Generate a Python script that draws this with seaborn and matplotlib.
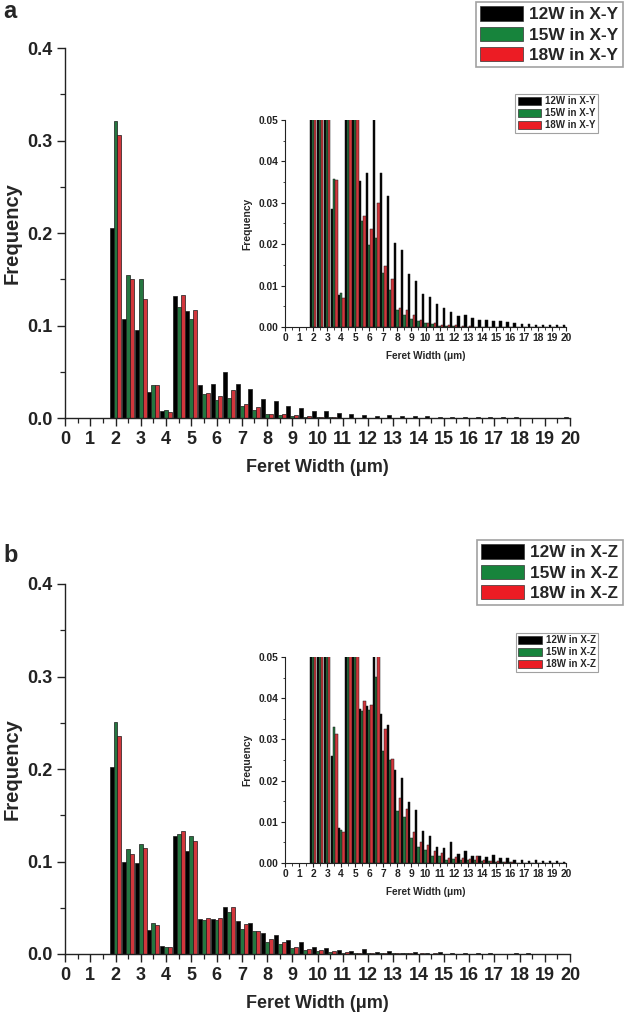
import numpy as np
import pandas as pd
import matplotlib
matplotlib.use("Agg")
import matplotlib.pyplot as plt
from matplotlib.patches import Patch
from matplotlib.ticker import FormatStrFormatter
import seaborn as sns

# ---------------- data ----------------
bins = [2.0, 2.5, 3.0, 3.5, 4.0, 4.5, 5.0, 5.5, 6.0, 6.5, 7.0, 7.5, 8.0, 8.5,
        9.0, 9.5, 10.0, 10.5, 11.0, 11.5, 12.0, 12.5, 13.0, 13.5, 14.0, 14.5,
        15.0, 15.5, 16.0, 16.5, 17.0, 17.5, 18.0, 18.5, 19.0, 19.5, 20.0]

labels_xy = ["12W in X-Y", "15W in X-Y", "18W in X-Y"]
labels_xz = ["12W in X-Z", "15W in X-Z", "18W in X-Z"]

xy_12w = [0.205, 0.107, 0.0955, 0.0285, 0.0077, 0.132, 0.116, 0.0352, 0.0371, 0.0500,
          0.0371, 0.0317, 0.0202, 0.0185, 0.0127, 0.0110, 0.0079, 0.0073, 0.0055, 0.0047,
          0.0036, 0.0027, 0.0029, 0.0022, 0.0018, 0.0018, 0.0015, 0.0014, 0.0013, 0.0010,
          0.0008, 0.0007, 0.0006, 0.0005, 0.0004, 0.0004, 0.0006]
xy_15w = [0.321, 0.155, 0.150, 0.0357, 0.0082, 0.120, 0.107, 0.0256, 0.0198, 0.0215,
          0.0131, 0.0090, 0.0040, 0.0028, 0.0019, 0.0014, 0.0010, 0.0007, 0.0003, 0.0002,
          0.0002, 0.0001, 0.0001, 0.0001, 0.0001, 0.0000, 0.0001, 0.0000, 0.0000, 0.0000,
          0.0000, 0.0000, 0.0000, 0.0000, 0.0000, 0.0000, 0.0000]
xy_18w = [0.306, 0.150, 0.129, 0.0355, 0.0069, 0.133, 0.117, 0.0268, 0.0236, 0.0300,
          0.0147, 0.0115, 0.0047, 0.0042, 0.0028, 0.0017, 0.0010, 0.0009, 0.0004, 0.0005,
          0.0004, 0.0003, 0.0002, 0.0001, 0.0001, 0.0001, 0.0001, 0.0001, 0.0000, 0.0000,
          0.0000, 0.0000, 0.0000, 0.0000, 0.0000, 0.0000, 0.0000]

xz_12w = [0.202, 0.100, 0.098, 0.0259, 0.0085, 0.128, 0.111, 0.0374, 0.0382, 0.0505,
          0.0362, 0.0336, 0.0225, 0.0206, 0.0147, 0.0128, 0.0078, 0.0066, 0.0040, 0.0037,
          0.0052, 0.0022, 0.0029, 0.0016, 0.0017, 0.0014, 0.0020, 0.0011, 0.0012, 0.0007,
          0.0007, 0.0005, 0.0008, 0.0006, 0.0005, 0.0004, 0.0003]
xz_15w = [0.251, 0.113, 0.119, 0.0331, 0.0080, 0.130, 0.128, 0.0370, 0.0372, 0.0451,
          0.0272, 0.0249, 0.0127, 0.0112, 0.0060, 0.0040, 0.0032, 0.0018, 0.0016, 0.0008,
          0.0009, 0.0008, 0.0007, 0.0008, 0.0005, 0.0004, 0.0003, 0.0002, 0.0002, 0.0001,
          0.0001, 0.0001, 0.0001, 0.0000, 0.0000, 0.0000, 0.0000]
xz_18w = [0.236, 0.108, 0.115, 0.0312, 0.0075, 0.133, 0.122, 0.0394, 0.0384, 0.0510,
          0.0326, 0.0253, 0.0158, 0.0132, 0.0076, 0.0050, 0.0044, 0.0030, 0.0024, 0.0012,
          0.0015, 0.0011, 0.0010, 0.0016, 0.0007, 0.0006, 0.0004, 0.0002, 0.0002, 0.0001,
          0.0001, 0.0001, 0.0001, 0.0000, 0.0000, 0.0000, 0.0000]

x_tick_labels = [str(i) for i in range(21)]
main_y_ticks = [0.0, 0.1, 0.2, 0.3, 0.4]
inset_y_ticks = [0.00, 0.01, 0.02, 0.03, 0.04, 0.05]

colors = ["#000000", "#17843c", "#ec1c24"]

# ---------------- style ----------------
sns.set_style("ticks")
plt.rcParams["font.family"] = ["Liberation Sans", "DejaVu Sans"]
plt.rcParams["font.weight"] = "bold"
plt.rcParams["axes.labelweight"] = "bold"
plt.rcParams["axes.edgecolor"] = "#222222"
plt.rcParams["xtick.color"] = "#222222"
plt.rcParams["ytick.color"] = "#222222"

W, H = 625, 1021
fig = plt.figure(figsize=(W / 100, H / 100), dpi=100)
fig.patch.set_facecolor("white")


def rect(l, t, r, b):
    return [l / W, 1 - b / H, (r - l) / W, (b - t) / H]


def make_df(labels, s1, s2, s3):
    rows = []
    for lab, vals in zip(labels, [s1, s2, s3]):
        for b, v in zip(bins, vals):
            rows.append({"bin": b, "freq": v, "series": lab})
    return pd.DataFrame(rows)


def draw(ax, df, labels, inset):
    sns.barplot(data=df, x="bin", y="freq", hue="series", hue_order=labels,
                palette=colors, native_scale=True, width=0.95, errorbar=None,
                edgecolor="#1a1a1a", linewidth=0.35 if inset else 0.5,
                legend=False, ax=ax)
    ax.set_facecolor("none")
    sns.despine(ax=ax)
    ax.set_xlim(0, 20)
    ax.set_xticks(range(21))
    ax.set_xticklabels(x_tick_labels)
    ax.set_xticks(np.arange(0, 20.5, 0.5), minor=True)
    if inset:
        ax.set_ylim(0, 0.05)
        ax.set_yticks(inset_y_ticks)
        ax.set_yticks(np.arange(0, 0.0501, 0.005), minor=True)
        ax.yaxis.set_major_formatter(FormatStrFormatter("%.2f"))
        fs = 7.4
        ax.tick_params(axis="both", which="major", length=3, width=0.8, pad=1.5, labelsize=fs)
        ax.tick_params(axis="both", which="minor", length=1.8, width=0.6)
        ax.set_xlabel("Feret Width (\u03bcm)", fontsize=7.2, weight="bold")
        ax.set_ylabel("Frequency", fontsize=7.4, weight="bold")
        ax.xaxis.set_label_coords(0.5, -0.115)
        ax.yaxis.set_label_coords(-0.115, 0.5)
        for sp in ax.spines.values():
            sp.set_linewidth(0.8)
    else:
        ax.set_ylim(0, 0.4)
        ax.set_yticks(main_y_ticks)
        ax.set_yticks(np.arange(0, 0.401, 0.05), minor=True)
        ax.yaxis.set_major_formatter(FormatStrFormatter("%.1f"))
        ax.tick_params(axis="both", which="major", length=6, width=1.0, pad=3, labelsize=13)
        ax.tick_params(axis="both", which="minor", length=3.5, width=0.9)
        ax.set_xlabel("Feret Width (\u03bcm)", fontsize=13, weight="bold")
        ax.set_ylabel("Frequency", fontsize=14.5, weight="bold")
        ax.xaxis.set_label_coords(0.5, -0.11)
        ax.yaxis.set_label_coords(-0.085, 0.5)
        for sp in ax.spines.values():
            sp.set_linewidth(1.0)
    for t in ax.get_xticklabels() + ax.get_yticklabels():
        t.set_fontweight("bold")


def legend(labels, anchor, size, hl, hh, ls, inset):
    handles = [Patch(facecolor=c, edgecolor="#333333", linewidth=0.5) for c in colors]
    leg = fig.legend(handles, labels, loc="upper right",
                     bbox_to_anchor=(anchor[0] / W, 1 - anchor[1] / H),
                     bbox_transform=fig.transFigure, frameon=True, fancybox=False,
                     edgecolor="#8a8a8a", prop=dict(weight="bold", size=size),
                     handlelength=hl, handleheight=hh, labelspacing=ls,
                     borderpad=0.25, handletextpad=0.4, borderaxespad=0)
    leg.get_frame().set_linewidth(0.8 if inset else 1.2)
    return leg


panels = [
    ("a", labels_xy, (xy_12w, xy_15w, xy_18w), 48, 418, 120, 327, 2, 94, 12),
    ("b", labels_xz, (xz_12w, xz_15w, xz_18w), 584, 954, 657, 863, 540, 633, 555),
]

for tag, labs, series, mt, mb, it, ib, lg_top, ilg_top, tag_y in panels:
    df = make_df(labs, *series)
    ax_main = fig.add_axes(rect(65, mt, 570, mb))
    draw(ax_main, df, labs, inset=False)
    ax_in = fig.add_axes(rect(285, it, 566, ib))
    draw(ax_in, df, labs, inset=True)
    legend(labs, (623, lg_top), 12.4, 2.45, 0.9, 0.25, False)
    legend(labs, (598, ilg_top), 7.0, 2.4, 0.85, 0.2, True)
    fig.text(3 / W, 1 - tag_y / H, tag, fontsize=17, weight="bold", va="center", ha="left")

fig.savefig("out.png", dpi=100, facecolor="white")
